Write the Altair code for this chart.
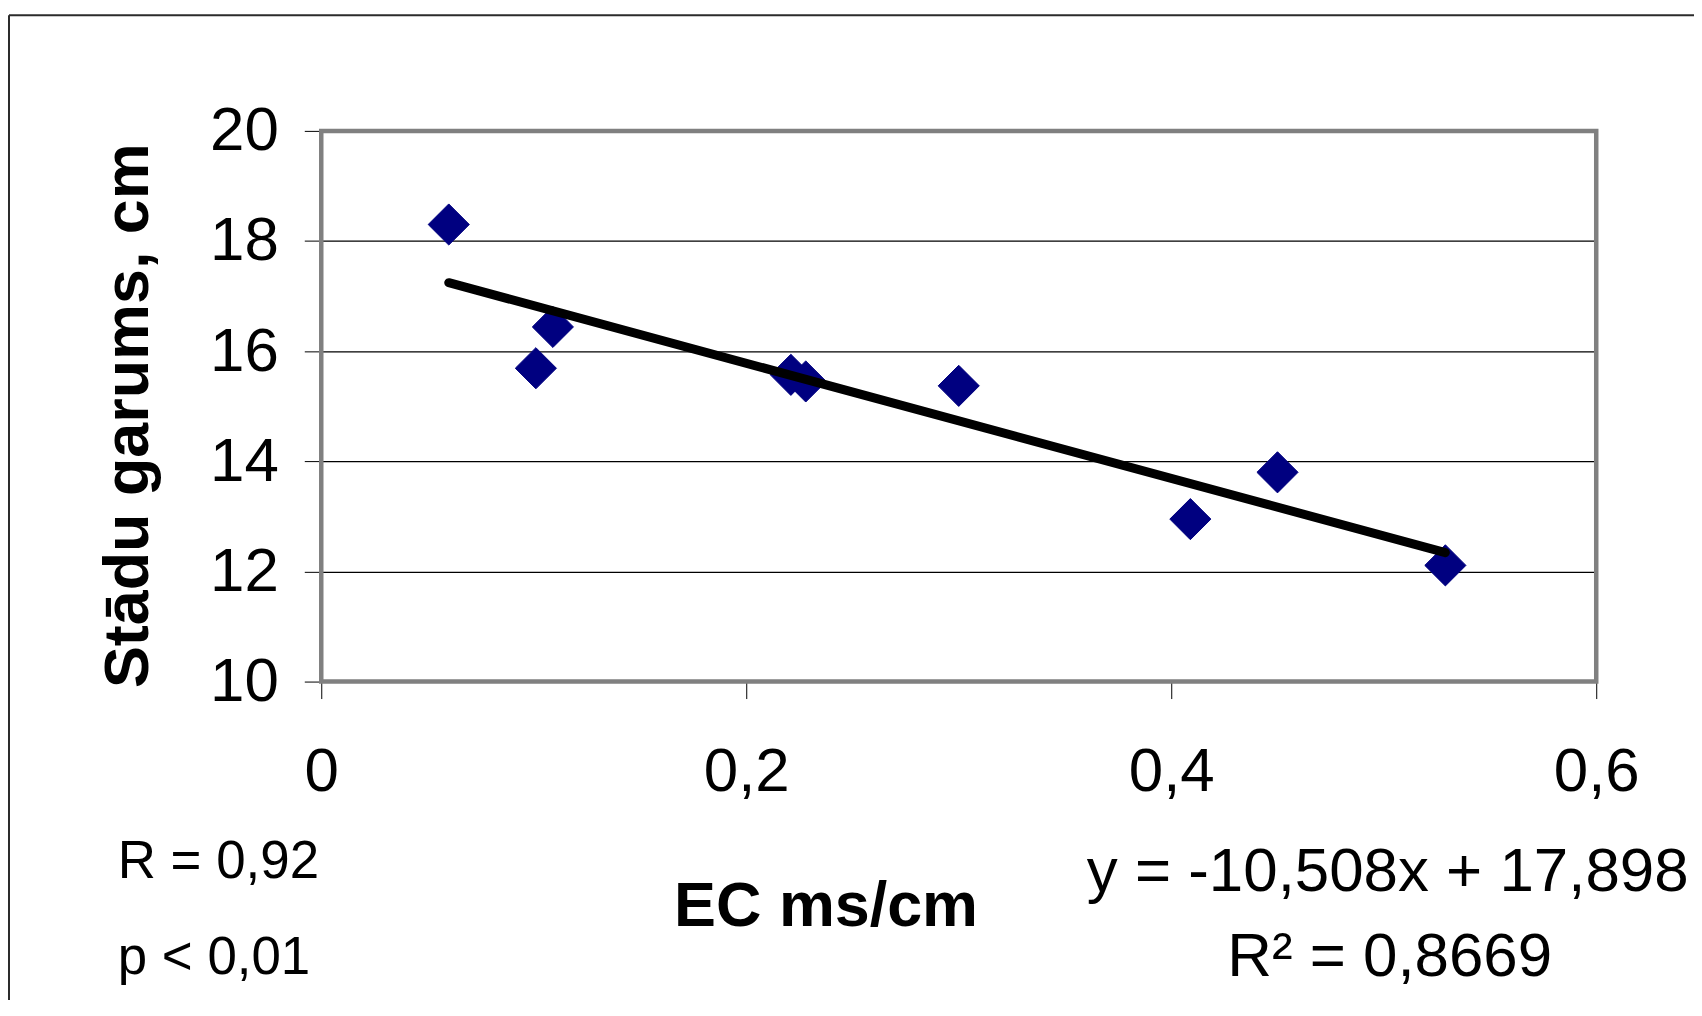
import altair as alt
import pandas as pd

# ---- data ----
ec = [0.060, 0.101, 0.109, 0.221, 0.228, 0.300, 0.409, 0.450, 0.529]
length = [18.30, 15.69, 16.44, 15.57, 15.45, 15.37, 12.95, 13.80, 12.11]
x_ticks = [0, 0.2, 0.4, 0.6]
y_ticks = [10, 12, 14, 16, 18, 20]
y_title = ["Stādu garums, cm"]
x_title = ["EC ms/cm"]
stat_r = ["R = 0,92"]
stat_p = ["p < 0,01"]
eq_line = ["y = -10,508x + 17,898"]
r2_line = ["R² = 0,8669"]

W, H = 1278, 552
FONT = "Liberation Sans"

df = pd.DataFrame({"ec": ec, "len": length})
one = pd.DataFrame({"k": [0]})

xscale = alt.Scale(domain=[0, 0.6], nice=False, zero=False)
yscale = alt.Scale(domain=[10, 20], nice=False, zero=False)

xaxis = alt.Axis(values=x_ticks, grid=False, domain=False, tickSize=17,
                 tickColor="black", tickWidth=1, labelFont=FONT, labelFontSize=62,
                 labelColor="black", labelPadding=43, labelFlush=False,
                 labelOverlap=False, labelBound=False,
                 labelExpr="replace(toString(datum.value), '.', ',')", title=None)
yaxis = alt.Axis(values=y_ticks, grid=True, gridColor="black", gridWidth=1.1,
                 gridOpacity=1, domain=False, tickSize=17, tickColor="black",
                 tickWidth=1, labelFont=FONT, labelFontSize=62, labelColor="black",
                 labelPadding=26, labelFlush=False, labelOverlap=False,
                 labelBound=False, title=None)

points = alt.Chart(df).mark_point(
    shape="diamond", filled=True, size=1700, color="#000080", opacity=1,
    stroke="#000080", strokeWidth=1, strokeJoin="round"
).encode(
    x=alt.X("ec:Q", scale=xscale, axis=xaxis),
    y=alt.Y("len:Q", scale=yscale, axis=yaxis),
)

trend = alt.Chart(df).transform_regression("ec", "len").mark_line(
    color="black", strokeWidth=9, strokeCap="round"
).encode(
    x=alt.X("ec:Q", scale=xscale),
    y=alt.Y("len:Q", scale=yscale),
)

border = alt.Chart(one).mark_rect(
    filled=False, stroke="#808080", strokeWidth=4.5
).encode(x=alt.value(0), x2=alt.value(W), y=alt.value(0), y2=alt.value(H))

frame_top = alt.Chart(one).mark_rule(color="#2b2b2b", strokeWidth=2).encode(
    x=alt.value(-313), x2=alt.value(1376), y=alt.value(-116))
frame_left = alt.Chart(one).mark_rule(color="#2b2b2b", strokeWidth=2).encode(
    x=alt.value(-313), y=alt.value(-116), y2=alt.value(880))


def label(texts, x, y, size, align="left", weight="normal", angle=0):
    return alt.Chart(pd.DataFrame({"t": texts})).mark_text(
        font=FONT, fontSize=size, fontWeight=weight, align=align,
        baseline="alphabetic", angle=angle, color="black"
    ).encode(text="t:N", x=alt.value(x), y=alt.value(y))


ytitle = label(y_title, -174, 285.5, 63, align="center", weight="bold", angle=270)
xtitle = label(x_title, 506, 797, 63, align="center", weight="bold")
t_r = label(stat_r, -204, 749, 53)
t_p = label(stat_p, -204, 845, 53)
t_eq = label(eq_line, 1069, 762, 62, align="center")
t_r2 = label(r2_line, 1071, 847, 62, align="center")

chart = alt.layer(
    points, trend, border, frame_top, frame_left,
    ytitle, xtitle, t_r, t_p, t_eq, t_r2
).properties(
    width=W, height=H,
    autosize=alt.AutoSizeParams(type="none"),
    padding={"left": 314, "top": 122, "right": 98, "bottom": 318},
    background="white",
).configure_view(strokeWidth=0)

chart.save("out.html", embed_options={"renderer": "svg", "actions": False})
